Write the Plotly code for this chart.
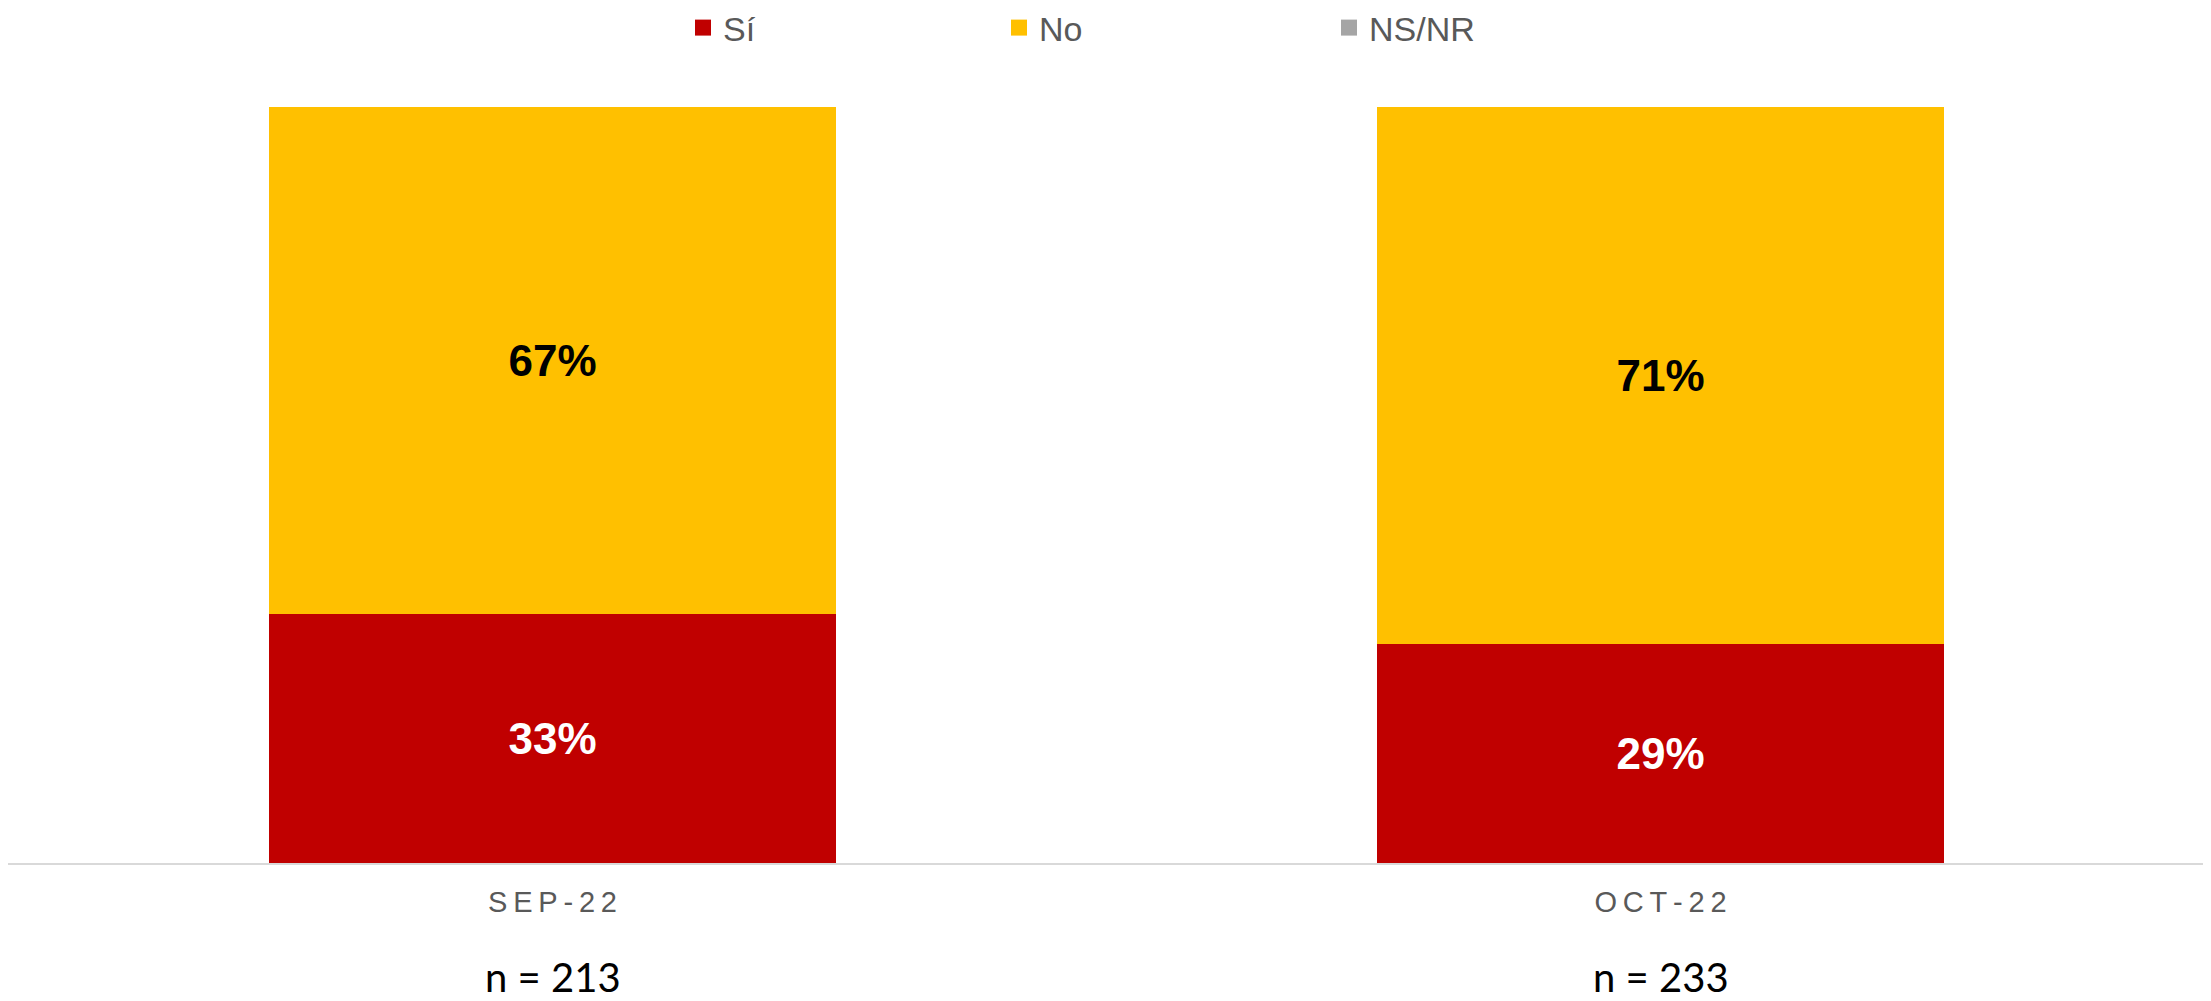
import plotly.graph_objects as go

categories = ["SEP-22", "OCT-22"]
si_values = [33, 29]
no_values = [67, 71]
nsnr_values = [0, 0]
sample_sizes = [213, 233]
series_names = ["Sí", "No", "NS/NR"]

tick_labels = ["\u2009".join(list(c)) for c in categories]

RED = "#C00000"
YELLOW = "#FFC000"
GRAY = "#A5A5A5"
TXT = "#595959"
FONT = "Arial, Liberation Sans, sans-serif"
colors = [RED, YELLOW, GRAY]
legend_ids = ["legend", "legend2", "legend3"]

# The page body has an 8px default margin; size the figure to fit the window.
W, H = 2203, 993
T, B = 99, 138
ph = H - T - B
UNIT = 1108.0          # px per category
C0 = 544.5             # px of first category centre within figure
x_range = [-C0 / UNIT, (W - C0) / UNIT]
BAR_W = 567 / UNIT

fig = go.Figure()
fig.add_trace(go.Bar(
    x=[0, 1], y=si_values, name=series_names[0], marker=dict(color=RED, line=dict(width=0)),
    text=[f"{v}%" for v in si_values], textposition="inside", insidetextanchor="middle",
    textfont=dict(color="white", size=44, family=FONT, weight="bold"),
    showlegend=False, width=BAR_W,
))
fig.add_trace(go.Bar(
    x=[0, 1], y=no_values, name=series_names[1], marker=dict(color=YELLOW, line=dict(width=0)),
    text=[f"{v}%" for v in no_values], textposition="inside", insidetextanchor="middle",
    textfont=dict(color="black", size=44, family=FONT, weight="bold"),
    showlegend=False, width=BAR_W,
))
fig.add_trace(go.Bar(
    x=[0, 1], y=nsnr_values, name=series_names[2], marker=dict(color=GRAY, line=dict(width=0)),
    showlegend=False, width=BAR_W, textposition="none",
))
# legend entries (square swatches)
for name, col, lid in zip(series_names, colors, legend_ids):
    fig.add_trace(go.Scatter(
        x=[None], y=[None], mode="markers", name=name,
        marker=dict(symbol="square", size=18, color=col),
        legend=lid, showlegend=True, hoverinfo="skip",
    ))

def legend_cfg(px):
    return dict(
        x=px / W, xanchor="left", y=1 + (T - 20) / ph, yanchor="middle",
        orientation="h", bgcolor="rgba(0,0,0,0)", borderwidth=0,
        font=dict(size=34, color=TXT, family=FONT), itemwidth=30,
        itemclick=False, itemdoubleclick=False,
    )

fig.update_layout(
    width=W, height=H,
    margin=dict(l=0, r=0, t=T, b=B, pad=0, autoexpand=False),
    barmode="stack",
    plot_bgcolor="white", paper_bgcolor="white",
    showlegend=True,
    legend=legend_cfg(675),
    legend2=legend_cfg(991),
    legend3=legend_cfg(1321),
    uniformtext=dict(minsize=10, mode="show"),
)
fig.update_xaxes(
    type="linear", range=x_range, tickvals=[0, 1], ticktext=tick_labels,
    showline=True, linecolor="#D9D9D9", linewidth=2, showgrid=False, zeroline=False,
    ticks="", ticklabelstandoff=12,
    tickfont=dict(size=29, color=TXT, family=FONT),
)
fig.update_yaxes(range=[0, 100], visible=False, showgrid=False, zeroline=False)

for i, n in enumerate(sample_sizes):
    fig.add_annotation(
        x=i, xref="x", y=-(969 - (H - B)) / ph, yref="paper", yanchor="middle",
        text=f"n = {n}", showarrow=False, height=44,
        font=dict(size=40, color="black", family="Lato, Carlito, sans-serif"),
    )

fig.write_html("out.html")
